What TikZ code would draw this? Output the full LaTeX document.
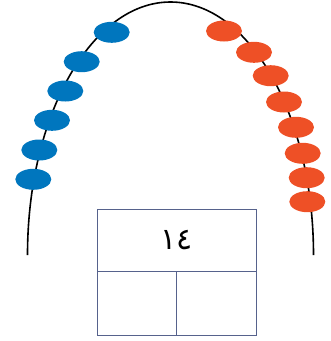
\documentclass[tikz,border=0pt]{standalone}
\usepackage{fontspec}
\usetikzlibrary{shapes.geometric}
\newfontfamily\arabicfont[Script=Arabic]{DejaVu Sans}
\TeXXeTstate=1
\definecolor{beadB}{RGB}{0,118,190}
\definecolor{beadR}{RGB}{238,80,38}
\definecolor{gridL}{RGB}{86,98,140}

\begin{document}
\begin{tikzpicture}[x=1pt,y=-1pt,
  bead/.style={ellipse,minimum width=36pt,minimum height=21pt,inner sep=0pt},
  bbead/.style={bead,fill=beadB},
  rbead/.style={bead,fill=beadR},
  cell/.style={draw=gridL,line width=0.8pt,inner sep=0pt}]
\useasboundingbox (0,0) rectangle (331,341);
% string
\draw[line width=1.6pt] (27.5,255) arc[start angle=180,end angle=360,x radius=143,y radius=253];
% beads
\foreach \x/\y [count=\i] in {111.7/32.3,81.7/61.7,65.3/91,52/120.3,39.3/150,33.3/179.3}
  \node[bbead] (b\i) at (\x,\y) {};
\foreach \x/\y [count=\i] in {224/31,254/52.3,270.7/75.7,284/102,296/127.3,302.7/153.3,306.7/177.7,307.3/201.7}
  \node[rbead] (r\i) at (\x,\y) {};
% number bond box
\node[cell,minimum width=158.7pt,minimum height=62pt] (whole) at (176.7,240) {\fontsize{30}{32}\selectfont\arabicfont ١٤};
\node[cell,minimum width=79.4pt,minimum height=64pt,anchor=north west] (partL) at (whole.south west) {};
\node[cell,minimum width=79.3pt,minimum height=64pt,anchor=north east] (partR) at (whole.south east) {};
\end{tikzpicture}
\end{document}
